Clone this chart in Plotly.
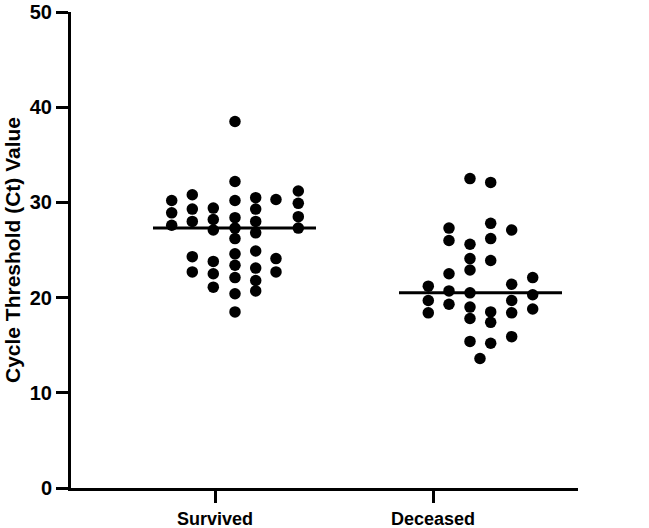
import plotly.graph_objects as go

# ---- data (Ct values), grouped by beeswarm column ----
categories = ["Survived", "Deceased"]

survived_cols = [
    [30.2, 28.9, 27.6],
    [30.8, 29.3, 28.0, 24.3, 22.7],
    [29.4, 28.2, 27.1, 23.8, 22.5, 21.1],
    [38.5, 32.2, 30.2, 28.4, 27.3, 26.2, 24.6, 23.4, 22.1, 20.4, 18.5],
    [30.5, 29.3, 28.0, 26.8, 24.9, 23.1, 21.8, 20.7],
    [30.3, 24.1, 22.7],
    [31.2, 29.9, 28.5, 27.3],
]
deceased_cols = [
    [21.2, 19.7, 18.4],
    [27.3, 26.0, 22.5, 20.7, 19.3],
    [32.5, 25.6, 24.1, 22.9, 20.5, 19.0, 17.8, 15.4],
    [13.6],
    [32.1, 27.8, 26.2, 23.9, 18.5, 17.4, 15.2],
    [27.1, 21.4, 19.7, 18.4, 15.9],
    [22.1, 20.3, 18.8],
]
medians = [27.3, 20.5]

# ---- layout constants (positions in data units; 1 unit = 218 px) ----
PX = 1 / 218.0
surv_offsets = [-43.3, -22.7, -1.7, 20.0, 40.7, 61.0, 83.3]
dec_offsets = [-4.7, 16.0, 37.0, 47.0, 57.7, 78.7, 99.7]
line_center = [19.5, 47.5]
line_half = 81.5

fig = go.Figure()

for gi, (cols, offs) in enumerate([(survived_cols, surv_offsets), (deceased_cols, dec_offsets)]):
    xs, ys = [], []
    for col, off in zip(cols, offs):
        for v in col:
            xs.append(gi + 1 + off * PX)
            ys.append(v)
    fig.add_trace(go.Scatter(
        x=xs, y=ys, mode="markers",
        marker=dict(color="black", size=11.5, line=dict(width=0)),
        showlegend=False, hoverinfo="y",
    ))
    c = gi + 1 + line_center[gi] * PX
    fig.add_trace(go.Scatter(
        x=[c - line_half * PX, c + line_half * PX], y=[medians[gi], medians[gi]],
        mode="lines", line=dict(color="black", width=3),
        showlegend=False, hoverinfo="skip",
    ))

font_family = "Liberation Sans, Arial, sans-serif"

fig.update_layout(
    width=649, height=528,
    margin=dict(l=71, r=71, t=12, b=40),
    paper_bgcolor="white", plot_bgcolor="white",
    font=dict(family=font_family, color="black"),
    xaxis=dict(
        range=[1 - 144 * PX, 2 + 145 * PX],
        tickvals=[1, 2], ticktext=[f"<b>{c}</b>" for c in categories],
        tickfont=dict(size=18, family=font_family, color="black"),
        showline=True, linecolor="black", linewidth=3,
        ticks="outside", ticklen=12, tickwidth=3, tickcolor="black",
        showgrid=False, zeroline=False, automargin=False,
    ),
    yaxis=dict(
        range=[0, 50],
        tickvals=[0, 10, 20, 30, 40, 50],
        ticktext=[f"<b>{v}</b>" for v in [0, 10, 20, 30, 40, 50]],
        tickfont=dict(size=20, family=font_family, color="black"),
        title=dict(text="<b>Cycle Threshold (Ct) Value</b>",
                   font=dict(size=21, family=font_family, color="black"),
                   standoff=4),
        showline=True, linecolor="black", linewidth=3,
        ticks="outside", ticklen=12, tickwidth=3, tickcolor="black",
        showgrid=False, zeroline=False, automargin=False,
    ),
)

fig.write_html("out.html")
